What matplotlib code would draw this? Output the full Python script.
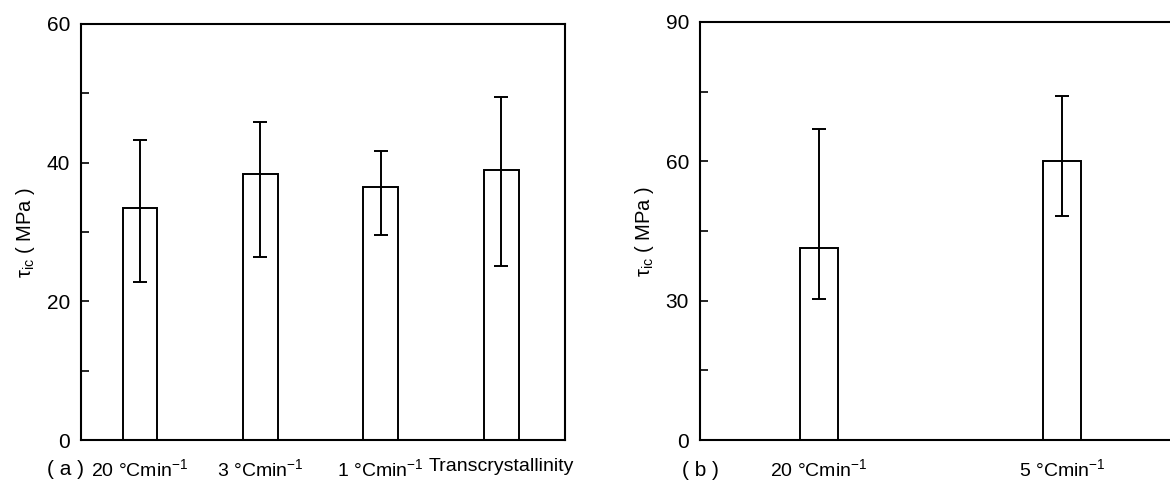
import matplotlib
matplotlib.use("Agg")
import matplotlib.pyplot as plt
from matplotlib.ticker import MultipleLocator

plt.rcParams['font.family'] = ['Liberation Sans', 'DejaVu Sans']
plt.rcParams['mathtext.fontset'] = 'custom'
plt.rcParams['mathtext.rm'] = 'Liberation Sans'
plt.rcParams['mathtext.it'] = 'Liberation Sans:italic'

# (a) cooling rates + transcrystallinity
cats_a = ["20 °Cmin$^{-1}$", "3 °Cmin$^{-1}$", "1 °Cmin$^{-1}$", "Transcrystallinity"]
tau_a = [33.4, 38.3, 36.5, 39.0]
low_a = [22.8, 26.4, 29.6, 25.1]
high_a = [43.2, 45.8, 41.7, 49.5]

# (b) two cooling rates
cats_b = ["20 °Cmin$^{-1}$", "5 °Cmin$^{-1}$"]
tau_b = [41.4, 60.0]
low_b = [30.4, 48.3]
high_b = [66.9, 74.1]

ylabel = r"τ$_{\rm ic}$ ( MPa )"

fig = plt.figure(figsize=(11.7, 4.82), dpi=100)
ax_a = fig.add_axes([81 / 1170, 42 / 482, 484 / 1170, 416 / 482])
ax_b = fig.add_axes([700 / 1170, 42 / 482, 484 / 1170, 418 / 482])


def draw_panel(ax, cats, vals, lo, hi, width, xlim, ymax, major, tag, tag_x):
    xs = list(range(len(cats)))
    err = [[v - l for v, l in zip(vals, lo)], [h - v for v, h in zip(vals, hi)]]
    ax.bar(xs, vals, width=width, facecolor="white", edgecolor="black",
           linewidth=1.4, zorder=2)
    ax.errorbar(xs, vals, yerr=err, fmt="none", ecolor="black",
                elinewidth=1.4, capsize=5, capthick=1.4, zorder=3)
    ax.set_xlim(*xlim)
    ax.set_ylim(0, ymax)
    ax.yaxis.set_major_locator(MultipleLocator(major))
    ax.yaxis.set_minor_locator(MultipleLocator(major / 2))
    ax.tick_params(axis="y", which="both", direction="in", length=6,
                   width=1.2, labelsize=15, pad=8)
    ax.tick_params(axis="x", length=0, labelsize=14, pad=13)
    ax.set_xticks(xs)
    ax.set_xticklabels(cats)
    ax.set_ylabel(ylabel, fontsize=14.5, labelpad=7)
    for s in ax.spines.values():
        s.set_linewidth(1.5)
    ax.text(tag_x, -0.072, tag, transform=ax.transAxes, fontsize=15,
            ha="center", va="center")


draw_panel(ax_a, cats_a, tau_a, low_a, high_a, 0.29, (-0.49, 3.53), 60, 20,
           "( a )", -0.033)
draw_panel(ax_b, cats_b, tau_b, low_b, high_b, 0.156, (-0.49, 1.5), 90, 30,
           "( b )", 0.0)

fig.savefig("out.png", dpi=100)
